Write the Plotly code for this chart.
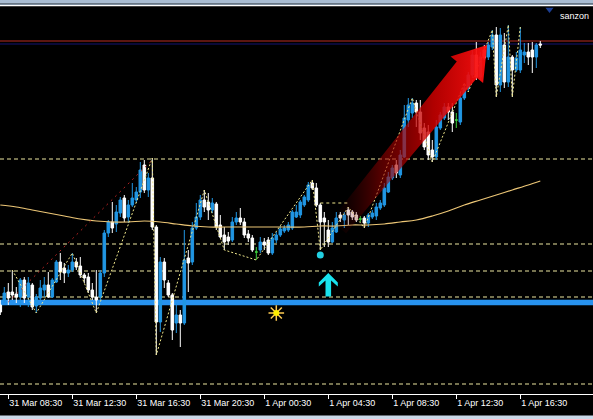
import numpy as np
import plotly.graph_objects as go

# ---------------- data (15-minute bars, bar 0 = 31 Mar 08:30) ----------------
bars = list(range(-2, 134))

open_ = [110.95, 111.00, 111.08, 111.08, 111.06, 111.03, 111.20, 111.03, 111.15, 110.94,
         111.02, 111.10, 111.15, 111.03, 111.18, 111.38, 111.32, 111.27, 111.30, 111.38,
         111.34, 111.25, 111.23, 111.10, 111.03, 111.03, 111.27, 111.67, 111.78, 111.76,
         111.87, 112.02, 111.83, 111.95, 112.00, 112.08, 112.35, 112.10, 112.22, 111.73,
         110.78, 111.38, 111.17, 111.05, 110.77, 110.85, 110.77, 111.42, 111.38, 111.72,
         111.83, 112.00, 111.98, 111.90, 111.96, 111.75, 111.65, 111.63, 111.60, 111.78,
         111.82, 111.78, 111.66, 111.62, 111.48, 111.50, 111.58, 111.60, 111.47, 111.60,
         111.65, 111.69, 111.70, 111.72, 111.83, 111.85, 111.95, 112.00, 112.17, 112.12,
         111.95, 111.82, 111.70, 111.58, 111.68, 111.85, 111.80, 111.90, 111.88, 111.85,
         111.81, 111.82, 111.77, 111.83, 111.84, 111.92, 111.95, 112.08, 112.22, 112.35,
         112.25, 112.43, 112.80, 112.87, 112.97, 112.88, 112.72, 112.68, 112.50, 112.43,
         112.72, 112.82, 112.93, 112.88, 112.80, 112.78, 113.02, 113.12, 113.25, 113.45,
         113.23, 113.50, 113.43, 113.53, 113.65, 113.15, 113.55, 113.18, 113.43, 113.30,
         113.30, 113.45, 113.48, 113.50, 113.43, 113.56]
high = [111.00, 111.13, 111.17, 111.30, 111.13, 111.22, 111.23, 111.23, 111.17, 111.06,
        111.20, 111.23, 111.28, 111.22, 111.40, 111.47, 111.37, 111.35, 111.47, 111.42,
        111.43, 111.27, 111.27, 111.17, 111.30, 111.30, 111.70, 111.80, 111.98, 111.95,
        112.03, 112.05, 112.00, 112.17, 112.13, 112.38, 112.40, 112.27, 112.42, 111.75,
        111.43, 111.42, 111.20, 111.07, 110.97, 110.90, 111.70, 111.50, 111.78, 111.97,
        112.05, 112.10, 112.07, 112.02, 111.98, 111.85, 111.73, 111.68, 111.83, 111.88,
        111.92, 111.82, 111.70, 111.65, 111.53, 111.63, 111.62, 111.63, 111.67, 111.68,
        111.74, 111.75, 111.78, 111.90, 111.95, 112.00, 112.05, 112.18, 112.20, 112.17,
        111.97, 111.88, 111.80, 111.78, 111.88, 111.88, 111.88, 111.93, 111.90, 111.88,
        111.84, 111.84, 111.87, 111.90, 111.97, 112.00, 112.17, 112.28, 112.35, 112.40,
        112.50, 112.95, 113.02, 113.02, 113.00, 113.00, 112.77, 112.75, 112.60, 112.80,
        112.88, 112.97, 112.97, 112.97, 112.87, 113.07, 113.17, 113.28, 113.50, 113.58,
        113.48, 113.55, 113.58, 113.70, 113.73, 113.72, 113.67, 113.75, 113.45, 113.48,
        113.73, 113.57, 113.57, 113.58, 113.57, 113.59]
low = [110.85, 110.97, 110.95, 111.00, 110.97, 110.93, 110.97, 110.93, 110.90, 110.87,
       111.00, 111.03, 111.02, 111.02, 111.17, 111.20, 111.17, 111.23, 111.28, 111.30,
       111.22, 111.17, 111.07, 111.00, 110.87, 111.00, 111.23, 111.63, 111.67, 111.68,
       111.83, 111.78, 111.77, 111.93, 111.97, 112.02, 112.07, 112.03, 111.70, 110.45,
       110.68, 111.12, 111.03, 110.60, 110.67, 110.53, 110.75, 111.08, 111.35, 111.70,
       111.80, 111.88, 111.80, 111.87, 111.70, 111.62, 111.50, 111.55, 111.58, 111.75,
       111.75, 111.62, 111.58, 111.48, 111.40, 111.47, 111.50, 111.45, 111.45, 111.57,
       111.63, 111.67, 111.68, 111.70, 111.82, 111.82, 111.93, 111.98, 112.10, 111.93,
       111.50, 111.53, 111.53, 111.57, 111.67, 111.78, 111.72, 111.75, 111.80, 111.78,
       111.78, 111.72, 111.73, 111.81, 111.80, 111.90, 111.93, 112.07, 112.20, 112.22,
       112.22, 112.42, 112.73, 112.82, 112.73, 112.60, 112.50, 112.40, 112.38, 112.40,
       112.70, 112.80, 112.80, 112.68, 112.72, 112.75, 113.00, 113.08, 113.22, 113.20,
       113.20, 113.40, 113.40, 113.50, 113.03, 113.08, 113.12, 113.13, 113.03, 113.28,
       113.27, 113.37, 113.35, 113.27, 113.32, 113.52]
close = [110.88, 111.07, 111.02, 111.05, 111.03, 111.20, 111.02, 111.17, 110.93, 111.03,
         111.12, 111.15, 111.03, 111.20, 111.38, 111.28, 111.27, 111.30, 111.38, 111.33,
         111.25, 111.22, 111.10, 111.03, 111.00, 111.27, 111.67, 111.78, 111.72, 111.88,
         112.00, 111.82, 111.95, 112.02, 112.08, 112.30, 112.10, 112.22, 111.73, 110.78,
         111.38, 111.20, 111.05, 110.70, 110.85, 110.77, 111.40, 111.37, 111.72, 111.83,
         112.00, 111.93, 111.90, 111.97, 111.73, 111.63, 111.58, 111.59, 111.78, 111.82,
         111.78, 111.65, 111.62, 111.50, 111.48, 111.58, 111.55, 111.47, 111.62, 111.65,
         111.71, 111.72, 111.75, 111.88, 111.88, 111.98, 112.03, 112.15, 112.12, 111.95,
         111.78, 111.78, 111.58, 111.72, 111.82, 111.82, 111.85, 111.85, 111.83, 111.80,
         111.81, 111.77, 111.85, 111.87, 111.93, 111.97, 112.12, 112.23, 112.32, 112.27,
         112.45, 112.82, 112.95, 112.97, 112.88, 112.67, 112.53, 112.45, 112.43, 112.73,
         112.85, 112.93, 112.88, 112.77, 112.80, 113.02, 113.12, 113.25, 113.45, 113.23,
         113.43, 113.42, 113.55, 113.65, 113.15, 113.65, 113.18, 113.43, 113.30, 113.42,
         113.50, 113.48, 113.43, 113.43, 113.55, 113.55]

# moving average read at hourly samples
ma_bars = [-2, 2, 6, 10, 14, 18, 22, 26, 30, 34, 38, 42, 46, 50, 54, 58, 62, 66, 70, 74,
           78, 82, 86, 90, 94, 98, 102, 106, 110, 114, 118, 122, 126, 130, 133]
ma_vals = [111.95, 111.93, 111.90, 111.87, 111.84, 111.81, 111.79, 111.78, 111.78, 111.79,
           111.78, 111.76, 111.74, 111.73, 111.73, 111.73, 111.73, 111.73, 111.73, 111.73,
           111.74, 111.74, 111.75, 111.75, 111.76, 111.78, 111.80, 111.84, 111.89, 111.95,
           112.00, 112.05, 112.10, 112.15, 112.19]

# zigzag swing points
zz_bars = [1, 7, 16, 22, 36, 37, 49, 54, 62, 76, 78, 85, 89, 101, 106, 114, 115, 121, 122, 125, 126, 128]
zz_vals = [111.30, 110.87, 111.47, 110.87, 112.42, 110.45, 112.10, 111.50, 111.40, 112.20,
           111.50, 111.93, 111.72, 113.02, 112.38, 113.17, 113.08, 113.70, 113.03, 113.75,
           113.03, 113.73]

level_dashed = [112.41, 111.56, 111.29, 111.03, 110.16]
level_support = 110.975
level_red = 113.59
level_navy = 113.56

trend_bars = [0, 36]
trend_vals = [110.98, 112.40]
neck_bars = [78, 85]
neck_vals = [111.97, 111.97]

signal_dot = (78, 111.45)
buy_arrow = (80, 111.27)
sun_mark = (67, 110.87)
big_arrow_tail = (82.5, 111.73)
big_arrow_tip = (119.7, 113.55)

tick_bars = [0, 16, 32, 48, 64, 80, 96, 112, 128]
tick_labels = ["31 Mar 08:30", "31 Mar 12:30", "31 Mar 16:30", "31 Mar 20:30",
               "1 Apr 00:30", "1 Apr 04:30", "1 Apr 08:30", "1 Apr 12:30", "1 Apr 16:30"]

# ---------------- layout geometry ----------------
W, H = 593, 419
M_T, M_B = 6, 25
PW, PH = W, H - M_T - M_B
X0, X1 = -2.075, 146.175
Y0, Y1 = 110.06, 113.94


def to_px(b, p):
    return ((b - X0) / (X1 - X0) * PW, (Y1 - p) / (Y1 - Y0) * PH)


def to_data(px, py):
    return (X0 + px / PW * (X1 - X0), Y1 - py / PH * (Y1 - Y0))


BLUE = "#2196e3"
fig = go.Figure()

o = np.array(open_); c = np.array(close); hi = np.array(high); lo = np.array(low); xb = np.array(bars)
doji = o == c
fig.add_trace(go.Candlestick(
    x=xb[~doji], open=o[~doji], high=hi[~doji], low=lo[~doji], close=c[~doji],
    increasing=dict(line=dict(color=BLUE, width=1), fillcolor=BLUE),
    decreasing=dict(line=dict(color="white", width=1), fillcolor="white"),
    whiskerwidth=0, hoverinfo="skip"))
fig.add_trace(go.Candlestick(
    x=xb[doji], open=o[doji], high=hi[doji], low=lo[doji], close=c[doji],
    increasing=dict(line=dict(color="#3ccf3c", width=1), fillcolor="#3ccf3c"),
    decreasing=dict(line=dict(color="#3ccf3c", width=1), fillcolor="#3ccf3c"),
    whiskerwidth=0, hoverinfo="skip"))

fig.add_trace(go.Scatter(x=ma_bars, y=ma_vals, mode="lines",
                         line=dict(color="rgb(236,198,118)", width=1.2, shape="spline"), hoverinfo="skip"))
fig.add_trace(go.Scatter(x=zz_bars, y=zz_vals, mode="lines",
                         line=dict(color="rgb(240,232,140)", width=1, dash="2px,2px"), hoverinfo="skip"))
fig.add_trace(go.Scatter(x=trend_bars, y=trend_vals, mode="lines",
                         line=dict(color="rgb(178,34,34)", width=1, dash="2px,4px"), hoverinfo="skip"))
fig.add_trace(go.Scatter(x=neck_bars, y=neck_vals, mode="lines",
                         line=dict(color="rgb(240,232,140)", width=1, dash="3px,3px"), hoverinfo="skip"))

# big red gradient arrow
ax_, ay_ = to_px(*big_arrow_tail)
tx_, ty_ = to_px(*big_arrow_tip)
d = np.array([tx_ - ax_, ty_ - ay_]); u = d / np.linalg.norm(d); n = np.array([-u[1], u[0]])
A = np.array([ax_, ay_]); T = np.array([tx_, ty_]); B = T - 32 * u
pts = [A + 10 * n, B + 13 * n, B + 21 * n, T, B - 21 * n, B - 13 * n, A - 10 * n, A + 10 * n]
pd_ = [to_data(*p) for p in pts]
fig.add_trace(go.Scatter(
    x=[p[0] for p in pd_], y=[p[1] for p in pd_], mode="lines", line=dict(width=0),
    fill="toself",
    fillgradient=dict(type="horizontal", start=big_arrow_tail[0] - 1, stop=big_arrow_tip[0],
                      colorscale=[[0, "rgba(90,0,0,0)"], [0.3, "rgba(150,0,0,0.55)"],
                                  [0.65, "rgba(215,0,0,0.82)"], [1, "rgba(255,15,15,0.96)"]]),
    hoverinfo="skip"))

# cyan buy arrow
bx, by = to_px(*buy_arrow)
shape_pts = [(0, 0), (9.5, 9.5), (9.5, 13.5), (2.8, 7.5), (2.8, 23.5), (-2.8, 23.5),
             (-2.8, 7.5), (-9.5, 13.5), (-9.5, 9.5), (0, 0)]
cd = [to_data(bx + dx, by + dy) for dx, dy in shape_pts]
fig.add_trace(go.Scatter(x=[p[0] for p in cd], y=[p[1] for p in cd], mode="lines",
                         line=dict(width=0), fill="toself", fillcolor="#19e3ee", hoverinfo="skip"))

fig.add_trace(go.Scatter(x=[signal_dot[0]], y=[signal_dot[1]], mode="markers",
                         marker=dict(color="#22d0e2", size=7, symbol="circle"), hoverinfo="skip"))
fig.add_trace(go.Scatter(x=[sun_mark[0]], y=[sun_mark[1]], mode="markers",
                         marker=dict(symbol="asterisk-open", size=13, line=dict(color="#ffee00", width=1.5)),
                         hoverinfo="skip"))
fig.add_trace(go.Scatter(x=[sun_mark[0]], y=[sun_mark[1]], mode="markers",
                         marker=dict(symbol="circle", size=6, color="#ffee00"), hoverinfo="skip"))
fig.add_trace(go.Scatter(x=[135.3], y=[113.905], mode="markers", cliponaxis=False,
                         marker=dict(symbol="triangle-down", size=7, color="#1c3f94"), hoverinfo="skip"))

shapes = []
for lv in level_dashed:
    shapes.append(dict(type="line", xref="paper", x0=0, x1=1, y0=lv, y1=lv, layer="below",
                       line=dict(color="rgb(236,230,160)", width=1, dash="4px,3px")))
shapes.append(dict(type="line", xref="paper", x0=0, x1=1, y0=level_support, y1=level_support,
                   layer="below", line=dict(color="#2792ee", width=5.5)))
shapes.append(dict(type="line", xref="paper", x0=0, x1=1, y0=level_red, y1=level_red,
                   layer="below", line=dict(color="rgb(185,45,35)", width=1)))
shapes.append(dict(type="line", xref="paper", x0=0, x1=1, y0=level_navy, y1=level_navy,
                   layer="below", line=dict(color="rgb(20,20,115)", width=1)))


def py_paper(py):
    return (PH - (py - M_T)) / PH


shapes += [
    dict(type="rect", xref="paper", yref="paper", x0=0, x1=1, y0=py_paper(0), y1=py_paper(3.5),
         fillcolor="#a9bdd3", line=dict(width=0)),
    dict(type="rect", xref="paper", yref="paper", x0=0, x1=1, y0=py_paper(3.5), y1=py_paper(5),
         fillcolor="#7f8fa0", line=dict(width=0)),
    dict(type="rect", xref="paper", yref="paper", x0=0, x1=1, y0=py_paper(5), y1=py_paper(6.3),
         fillcolor="white", line=dict(width=0)),
    dict(type="rect", xref="paper", yref="paper", x0=0, x1=1, y0=py_paper(415.5), y1=py_paper(419.5),
         fillcolor="#cbd8e8", line=dict(width=0)),
]

fig.update_layout(
    width=W, height=H, margin=dict(l=0, r=0, t=M_T, b=M_B),
    paper_bgcolor="black", plot_bgcolor="black", showlegend=False,
    boxgap=0.2, boxgroupgap=0.2,
    shapes=shapes,
    annotations=[dict(text="sanzon", xref="paper", yref="paper", x=591 / W, y=py_paper(16),
                      xanchor="right", yanchor="middle", showarrow=False,
                      font=dict(family="Liberation Sans, Arial", size=9, color="white"))],
    xaxis=dict(range=[X0, X1], showgrid=False, zeroline=False, tickvals=tick_bars, ticktext=tick_labels,
               ticks="outside", ticklen=4, tickcolor="white", tickwidth=1,
               showline=True, linecolor="white", linewidth=1,
               ticklabelposition="outside right",
               tickfont=dict(family="Liberation Sans, Arial", size=9, color="white"),
               rangeslider=dict(visible=False), fixedrange=True),
    yaxis=dict(range=[Y0, Y1], showgrid=False, zeroline=False, showticklabels=False, ticks="",
               fixedrange=True),
)

fig.write_html("out.html", config={"displayModeBar": False},
               post_script="document.body.style.margin='0';")
